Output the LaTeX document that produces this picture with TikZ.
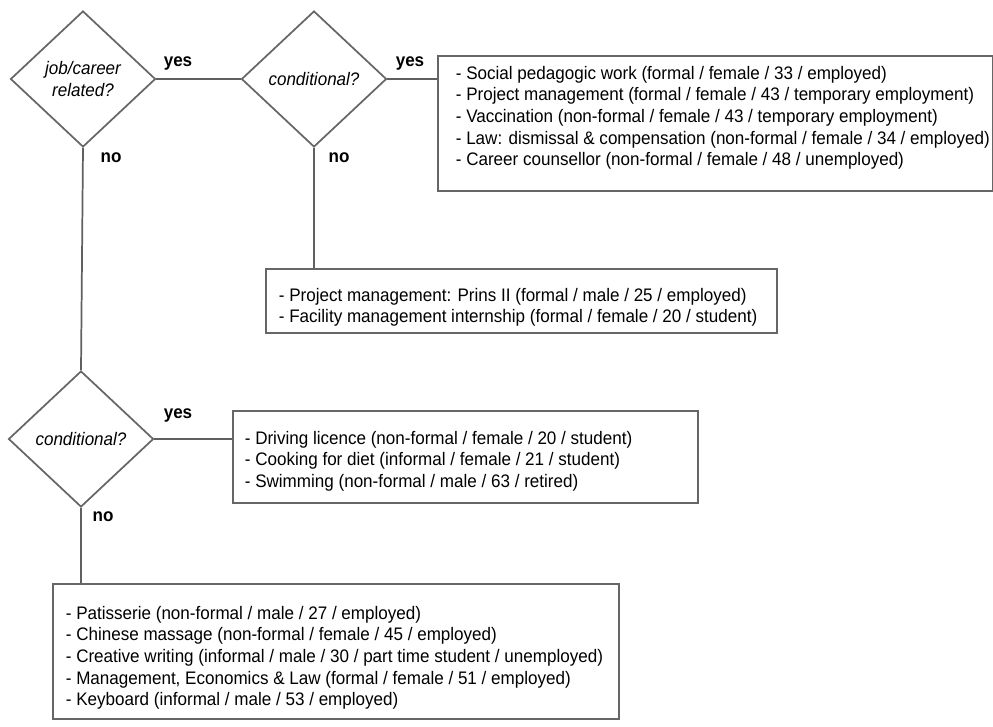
\documentclass[tikz,border=0pt]{standalone}
\usepackage{fontspec}
\setmainfont{Liberation Sans}[FakeStretch=0.94]
\usetikzlibrary{shapes.geometric,positioning}

\begin{document}
\begin{tikzpicture}[x=0.75pt, y=-0.75pt, line width=1.3pt,
    every node/.style={font=\fontsize{13.6}{16.3}\selectfont},
    decision/.style={diamond, draw=gray!80!black, inner sep=0pt, minimum width=108.75pt, minimum height=102pt, align=center, font=\fontsize{13.6}{16.3}\selectfont\itshape},
    itembox/.style={draw=gray!80!black, anchor=north west, inner sep=0pt},
    items/.style={anchor=north west, inner sep=0pt, align=left},
    answer/.style={font=\fontsize{13.6}{16.3}\selectfont\bfseries},
    link/.style={draw=gray!75!black}]
	\useasboundingbox (0,0) rectangle (993,726);
	
	% 1. Entscheidungen
	\node[decision] (job) at (83,79) {job/career\\related?};
	\node[decision] (cond1) at (314,79) {conditional?};
	\node[decision] (cond2) at (81,439) {conditional?};
	
	% 2. Kaesten mit Kursen
	\node[itembox, minimum width=416pt, minimum height=101.25pt] (jobyes) at (437,55) {};
	\node[items] (jobyestxt) at (455,65) {- Social pedagogic work (formal / female / 33 / employed)\\
		- Project management (formal / female / 43 / temporary employment)\\
		- Vaccination (non-formal / female / 43 / temporary employment)\\
		- Law: dismissal \& compensation (non-formal / female / 34 / employed)\\
		- Career counsellor (non-formal / female / 48 / unemployed)};
	
	\node[itembox, minimum width=383.25pt, minimum height=48pt] (jobno) at (265,268) {};
	\node[items] (jobnotxt) at (278,287) {- Project management: Prins II (formal / male / 25 / employed)\\
		- Facility management internship (formal / female / 20 / student)};
	
	\node[itembox, minimum width=348.75pt, minimum height=69pt] (freeyes) at (232,410) {};
	\node[items] (freeyestxt) at (244,430) {- Driving licence (non-formal / female / 20 / student)\\
		- Cooking for diet (informal / female / 21 / student)\\
		- Swimming (non-formal / male / 63 / retired)};
	
	\node[itembox, minimum width=424.5pt, minimum height=101.25pt] (freeno) at (52,583) {};
	\node[items] (freenotxt) at (65,605) {- Patisserie (non-formal / male / 27 / employed)\\
		- Chinese massage (non-formal / female / 45 / employed)\\
		- Creative writing (informal / male / 30 / part time student / unemployed)\\
		- Management, Economics \& Law (formal / female / 51 / employed)\\
		- Keyboard (informal / male / 53 / employed)};
	
	% 3. Verbindungen
	\draw[link] (job.east) -- (cond1.west);
	\draw[link] (cond1.east) -- (cond1.east -| jobyes.west);
	\draw[link] (cond1.south) -- (cond1.south |- jobno.north);
	\draw[link] (job.south) -- (cond2.north);
	\draw[link] (cond2.east) -- (cond2.east -| freeyes.west);
	\draw[link] (cond2.south) -- (cond2.south |- freeno.north);
	
	% 4. ja / nein
	\node[answer] (yes1) at (178,63) {yes};
	\node[answer] (yes2) at (410,63) {yes};
	\node[answer] (no1) at (111,158) {no};
	\node[answer] (no2) at (339,158) {no};
	\node[answer] (yes3) at (178,415) {yes};
	\node[answer] (no3) at (103,517) {no};
\end{tikzpicture}
\end{document}
